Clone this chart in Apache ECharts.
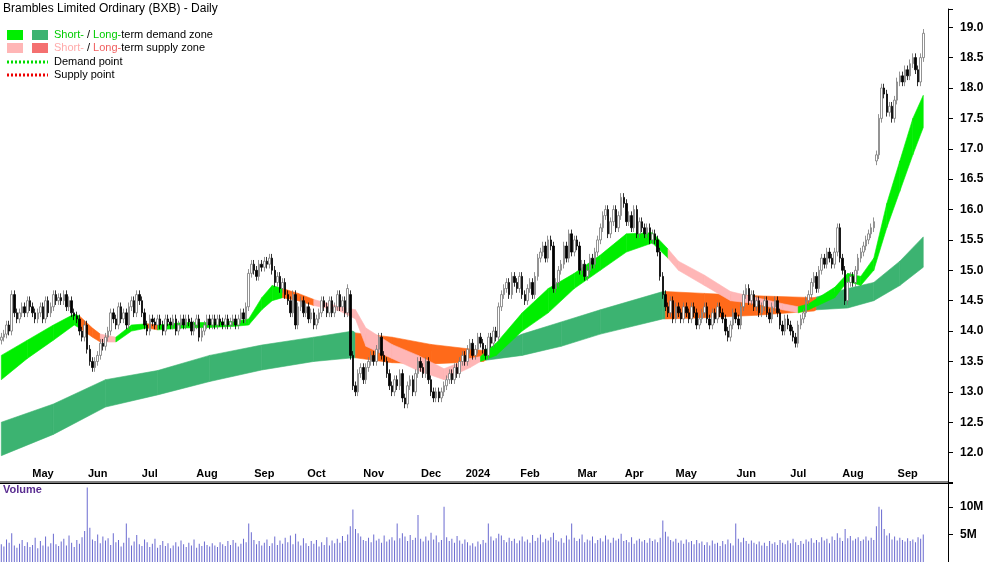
<!DOCTYPE html>
<html>
<head>
<meta charset="utf-8">
<script src="https://cdn.jsdelivr.net/npm/echarts@6/dist/echarts.min.js"></script>
<style>html,body{margin:0;padding:0;background:#fff}#main{width:1000px;height:562px}</style>
</head>
<body>
<div id="main"></div>
<script>
// daily closes
var closes = [
 13.9,13.95,14.1,14.0,14.6,14.3,14.2,14.3,14.4,14.3,
 14.5,14.4,14.3,14.2,14.3,14.4,14.2,14.5,14.3,14.4,
 14.6,14.5,14.55,14.5,14.6,14.4,14.5,14.3,14.25,14.2,
 14.0,13.9,14.1,13.7,13.5,13.4,13.5,13.6,13.8,13.75,
 13.9,14.0,14.3,14.2,14.1,14.4,14.2,14.3,14.1,14.4,
 14.5,14.3,14.6,14.5,14.3,14.1,14.0,14.2,14.15,14.1,
 14.2,14.1,14.0,14.2,14.15,14.1,14.2,14.0,14.1,14.2,
 14.1,14.2,14.15,14.0,14.1,14.2,13.9,14.0,14.1,14.2,
 14.1,14.2,14.1,14.2,14.15,14.1,14.2,14.1,14.15,14.2,
 14.1,14.2,14.3,14.2,14.4,14.95,15.1,15.0,14.9,15.1,
 15.05,15.15,15.1,15.2,15.0,14.8,14.9,14.7,14.8,14.6,
 14.5,14.3,14.6,14.1,14.4,14.5,14.3,14.4,14.2,14.3,
 14.1,14.2,14.3,14.5,14.4,14.3,14.5,14.3,14.4,14.6,
 14.4,14.5,14.3,14.7,13.6,13.1,13.0,13.3,13.4,13.2,
 13.4,13.5,13.6,13.5,13.7,13.9,13.6,13.5,13.3,13.1,
 13.0,13.2,13.1,13.3,12.9,12.8,13.1,13.2,13.0,13.3,
 13.5,13.4,13.3,13.5,13.2,13.0,12.9,13.0,12.9,13.0,
 13.1,13.2,13.3,13.2,13.4,13.3,13.5,13.6,13.5,13.7,
 13.8,13.6,13.7,13.9,13.8,13.7,13.6,13.9,13.8,14.0,
 13.9,14.4,14.6,14.7,14.8,14.6,14.9,14.8,14.7,14.9,
 14.6,14.5,14.7,14.8,14.6,14.9,15.2,15.3,15.4,15.2,
 15.5,15.4,14.7,14.8,15.0,15.1,15.4,15.2,15.6,15.3,
 15.5,15.4,15.0,15.1,14.9,15.0,15.2,15.1,15.3,15.5,
 15.7,15.9,16.0,15.6,15.8,16.0,15.7,15.9,16.2,16.1,
 15.8,15.9,15.7,16.0,15.6,15.8,15.7,15.6,15.7,15.5,
 15.6,15.5,15.3,14.9,14.6,14.4,14.3,14.5,14.2,14.4,
 14.3,14.2,14.4,14.3,14.2,14.4,14.3,14.1,14.2,14.3,
 14.4,14.2,14.1,14.3,14.2,14.4,14.3,14.2,14.0,13.9,
 14.1,14.3,14.2,14.1,14.4,14.6,14.7,14.5,14.6,14.4,
 14.5,14.3,14.4,14.5,14.3,14.2,14.4,14.5,14.3,14.1,
 14.0,14.2,14.1,14.0,13.9,13.8,14.1,14.2,14.3,14.5,
 14.6,14.8,14.9,14.7,15.0,15.2,15.1,15.3,15.2,15.1,
 15.3,15.7,15.2,15.0,14.5,14.8,14.9,14.8,15.0,15.2,
 15.3,15.4,15.5,15.6,15.7,15.8,16.9,17.5,18.0,17.9,
 17.6,17.7,17.5,17.8,18.1,18.2,18.1,18.3,18.2,18.4,
 18.5,18.3,18.1,18.5,18.9
];
// open of gap days (otherwise previous close)
var gapOpens = {134:14.6, 336:16.8};
// daily volume, millions
var volumes = [
 3.2,2.8,4.1,3.5,5.2,3.0,2.6,3.3,4.0,2.9,
 3.6,2.7,3.1,4.4,2.5,3.8,3.0,4.6,2.8,3.4,
 5.1,3.2,2.9,3.7,4.2,3.0,4.8,3.5,2.7,4.0,
 3.3,4.5,5.6,13.5,6.2,4.1,3.8,5.0,3.4,4.6,
 3.9,4.3,3.1,5.2,3.6,4.0,2.8,3.5,7.0,4.4,
 3.0,3.7,4.9,3.2,2.9,4.1,3.6,2.7,3.3,4.2,
 2.6,3.1,3.8,2.9,3.4,2.5,3.0,3.6,2.8,3.9,
 3.2,2.7,3.5,3.0,4.1,2.6,3.3,2.9,3.7,3.1,
 2.8,3.4,3.0,2.7,3.6,3.2,2.9,3.8,3.1,4.0,
 3.5,2.8,3.3,4.2,3.6,7.0,5.4,4.0,3.2,3.8,
 3.0,3.5,4.1,2.9,3.4,4.6,3.1,3.9,3.3,4.4,
 3.6,4.8,3.2,5.1,3.7,3.0,4.3,3.4,2.9,3.8,
 3.3,4.0,2.8,3.6,3.1,4.5,3.0,3.9,3.4,4.2,
 3.5,4.7,3.8,5.0,6.5,9.5,6.0,5.2,4.6,4.0,
 3.8,4.4,3.6,5.0,3.9,4.2,3.5,4.8,3.7,4.1,
 4.5,3.9,7.0,4.3,5.2,4.6,3.8,4.9,4.0,4.4,
 8.5,4.2,3.7,4.6,3.9,5.3,4.1,4.8,3.6,4.0,
 10.0,4.5,3.8,4.2,3.5,4.7,3.9,3.3,4.1,3.6,
 3.0,3.4,2.8,3.7,3.2,4.0,3.5,7.0,4.6,3.9,
 4.3,5.1,4.8,4.0,3.6,4.4,3.8,4.2,3.4,3.9,
 4.6,3.7,4.1,3.5,4.9,3.8,4.4,5.0,3.6,4.2,
 3.9,4.5,5.3,4.0,3.7,4.3,3.5,4.8,4.1,7.0,
 4.4,3.8,4.2,5.0,3.6,4.1,3.9,4.6,3.4,4.0,
 4.3,3.7,4.8,4.1,3.5,4.4,3.9,4.2,5.1,3.8,
 4.0,3.6,4.5,3.3,3.9,4.2,3.7,4.0,3.5,4.3,
 3.8,4.1,3.6,4.4,7.5,5.5,4.6,4.0,3.7,4.2,
 3.5,3.9,3.3,4.1,3.6,3.8,3.2,4.0,3.4,3.7,
 3.1,3.6,3.0,3.9,3.3,3.5,2.9,3.8,3.2,4.1,
 3.4,3.0,7.0,4.2,3.6,4.4,3.8,3.3,3.9,3.5,
 3.2,3.7,3.0,3.5,2.9,3.8,3.3,3.6,3.1,4.0,
 3.5,3.2,3.9,3.4,4.2,3.6,3.1,3.8,3.3,4.1,
 3.7,4.3,3.5,4.0,3.6,4.5,3.9,4.2,3.4,4.6,
 4.0,5.2,4.4,3.8,6.0,4.3,4.7,3.9,4.2,4.5,
 3.8,4.1,4.6,3.9,4.4,4.0,6.5,10.0,9.5,6.0,
 4.8,5.2,4.1,4.6,3.9,4.4,4.0,3.7,4.3,3.8,
 4.1,3.6,4.5,4.2,5.0
];
// short-term band: [day, low, high, state]  g=demand, p=supply, o=long-supply tint
var shortBand = [
 [0,13.2,13.6,'g'],[10,13.55,13.85,'g'],[20,13.85,14.1,'g'],[28,14.1,14.28,'g'],
 [30,14.05,14.25,'o'],[35,13.9,14.05,'o'],[38,13.82,13.95,'p'],[44,13.82,13.9,'g'],
 [50,14.0,14.1,'g'],[56,14.05,14.12,'o'],[60,14.02,14.1,'g'],[70,14.05,14.14,'g'],
 [80,14.06,14.14,'g'],[90,14.08,14.16,'g'],[95,14.1,14.2,'g'],[100,14.35,14.55,'g'],
 [104,14.5,14.75,'g'],[108,14.55,14.7,'o'],[114,14.5,14.62,'o'],[120,14.42,14.52,'p'],
 [130,14.33,14.4,'p'],[136,14.2,14.35,'p'],[140,13.75,14.05,'p'],[150,13.55,13.78,'p'],
 [160,13.35,13.6,'p'],[170,13.2,13.38,'p'],[180,13.4,13.55,'p'],[184,13.5,13.58,'g'],
 [190,13.6,13.8,'g'],[200,14.0,14.3,'g'],[210,14.3,14.7,'g'],[220,14.7,14.95,'g'],
 [230,15.0,15.25,'g'],[240,15.3,15.6,'g'],[250,15.45,15.62,'g'],[256,15.2,15.35,'p'],
 [260,15.0,15.15,'p'],[270,14.75,14.92,'p'],[280,14.5,14.65,'p'],[290,14.45,14.55,'p'],
 [300,14.35,14.45,'p'],[306,14.3,14.4,'g'],[310,14.35,14.45,'g'],[320,14.55,14.72,'g'],
 [325,14.82,14.95,'g'],[330,14.75,14.9,'g'],[335,15.0,15.2,'g'],[340,15.7,16.1,'g'],
 [345,16.3,16.8,'g'],[350,16.9,17.5,'g'],[354,17.35,17.88,'g']
];
// long-term band
var longBand = [
 [0,11.95,12.5,'g'],[20,12.3,12.8,'g'],[40,12.75,13.2,'g'],[60,12.95,13.35,'g'],
 [80,13.17,13.6,'g'],[100,13.36,13.77,'g'],[120,13.5,13.9,'g'],[135,13.56,14.0,'g'],
 [136,13.56,13.97,'o'],[150,13.48,13.9,'o'],[165,13.46,13.78,'o'],[185,13.5,13.68,'o'],
 [186,13.52,13.7,'g'],[200,13.6,13.95,'g'],[215,13.75,14.15,'g'],[230,13.95,14.35,'g'],
 [254,14.2,14.65,'g'],[255,14.2,14.65,'o'],[270,14.22,14.62,'o'],[290,14.26,14.58,'o'],
 [312,14.33,14.55,'o'],[313,14.35,14.56,'g'],[325,14.38,14.7,'g'],[335,14.5,14.8,'g'],
 [345,14.75,15.15,'g'],[354,15.05,15.55,'g']
];
// month labels: day index of month start
var monthTicks = [[16,'May'],[37,'Jun'],[57,'Jul'],[79,'Aug'],[101,'Sep'],[121,'Oct'],[143,'Nov'],
 [165,'Dec'],[183,'2024'],[203,'Feb'],[225,'Mar'],[243,'Apr'],[263,'May'],[286,'Jun'],
 [306,'Jul'],[327,'Aug'],[348,'Sep']];
var padDays = 9;

var bandColors = {g:'#00ee00', p:'#ffb6b6', o:'#ff6a1a'};
var longColors = {g:'#3cb371', o:'#ff6a1a'};

var cats = [], candle = [], tickMap = {};
for (var i = 0; i < closes.length + padDays; i++) cats.push(String(i));
for (var i = 0; i < closes.length; i++) {
  var c = closes[i];
  var o = gapOpens[i] !== undefined ? gapOpens[i] : (i == 0 ? c - 0.05 : closes[i-1]);
  if (o == c) o = c - 0.03;
  candle.push([o, c, Math.min(o,c) - 0.07, Math.max(o,c) + 0.07]);
}
monthTicks.forEach(function (t) { tickMap[t[0]] = t[1]; });

function segs(band, colors) {
  var out = [];
  for (var k = 0; k < band.length - 1; k++) {
    var a = band[k], b = band[k+1];
    out.push({value:[a[0],a[1],a[2],b[0],b[1],b[2]], itemStyle:{color: colors[a[3]] || colors.g}});
  }
  return out;
}
function bandItem(params, api) {
  var p1 = api.coord([api.value(0), api.value(1)]);
  var p2 = api.coord([api.value(0), api.value(2)]);
  var p3 = api.coord([api.value(3), api.value(5)]);
  var p4 = api.coord([api.value(3), api.value(4)]);
  return {type:'polygon', shape:{points:[p1,p2,p3,p4]},
    style:{fill: api.visual('color'), stroke: api.visual('color'), lineWidth:0.6}};
}

var chart = echarts.init(document.getElementById('main'));
chart.setOption({
  animation:false,
  textStyle:{fontFamily:'Liberation Sans'},
  grid:[{left:0, right:52, top:9, height:474},{left:0, right:52, top:482, height:84}],
  xAxis:[
    {type:'category', data:cats, gridIndex:0, boundaryGap:true,
     axisLine:{lineStyle:{color:'#000'}},
     axisTick:{alignWithLabel:true, inside:true, interval:function(i){return tickMap[i]!==undefined;}, length:4, lineStyle:{color:'#000'}},
     axisLabel:{interval:function(i){return tickMap[i]!==undefined;}, formatter:function(v){return tickMap[v]||'';},
       color:'#000', fontSize:11, fontWeight:'bold', margin:-4, align:'center', verticalAlign:'bottom'},
     splitLine:{show:false}},
    {type:'category', data:cats, gridIndex:1, show:false}
  ],
  yAxis:[
    {type:'value', gridIndex:0, position:'right', min:11.5, max:19.3, interval:0.5,
     axisLine:{show:true, lineStyle:{color:'#000'}}, axisTick:{show:true, length:5, lineStyle:{color:'#000'}},
     splitLine:{show:false},
     axisLabel:{color:'#000', fontSize:12, fontWeight:'bold', margin:12,
       formatter:function(v){return (v<12||v>19)?'':v.toFixed(1);}}},
    {type:'value', gridIndex:1, position:'right', min:0, max:14.5, interval:5,
     axisLine:{show:true, lineStyle:{color:'#000'}}, axisTick:{show:true, length:5, lineStyle:{color:'#000'}},
     splitLine:{show:false},
     axisLabel:{color:'#000', fontSize:12, fontWeight:'bold', margin:12,
       formatter:function(v){return (v==5||v==10)?v+'M':'';}}}
  ],
  series:[
    {type:'custom', xAxisIndex:0, yAxisIndex:0, renderItem:bandItem, data:segs(longBand,longColors), z:1, silent:true},
    {type:'custom', xAxisIndex:0, yAxisIndex:0, renderItem:bandItem, data:segs(shortBand,bandColors), z:2, silent:true},
    {type:'candlestick', xAxisIndex:0, yAxisIndex:0, data:candle, barWidth:2, z:5,
     itemStyle:{color:'#ffffff', borderColor:'#777', color0:'#000', borderColor0:'#000', borderWidth:0.8}},
    {type:'bar', xAxisIndex:1, yAxisIndex:1, data:volumes, barWidth:1, itemStyle:{color:'#6a6ad0'}}
  ],
  graphic:[
    {type:'line', shape:{x1:0,y1:482,x2:948,y2:482}, style:{stroke:'#000', lineWidth:1}},
    {type:'text', left:3, top:3, style:{text:'Brambles Limited Ordinary (BXB) - Daily', font:'12px Liberation Sans', fill:'#000'}},
    {type:'text', left:3, top:484, style:{text:'Volume', font:'bold 11px Liberation Sans', fill:'#5a2d91'}},
    {type:'rect', shape:{x:7,y:30,width:16,height:10}, style:{fill:'#00ee00'}},
    {type:'rect', shape:{x:32,y:30,width:16,height:10}, style:{fill:'#3cb371'}},
    {type:'rect', shape:{x:7,y:43,width:16,height:10}, style:{fill:'#ffb6b6'}},
    {type:'rect', shape:{x:32,y:43,width:16,height:10}, style:{fill:'#f47070'}},
    {type:'line', shape:{x1:7,y1:62,x2:48,y2:62}, style:{stroke:'#00dd00', lineWidth:3, lineDash:[2,2]}},
    {type:'line', shape:{x1:7,y1:75,x2:48,y2:75}, style:{stroke:'#ee0000', lineWidth:3, lineDash:[2,2]}},
    {type:'text', left:54, top:29, style:{rich:{g:{fill:'#00cc00',font:'11px Liberation Sans'},k:{fill:'#000',font:'11px Liberation Sans'}},
      text:'{g|Short-}{k| / }{g|Long-}{k|term demand zone}'}},
    {type:'text', left:54, top:42, style:{rich:{g:{fill:'#ffaaaa',font:'11px Liberation Sans'},r:{fill:'#f06060',font:'11px Liberation Sans'},k:{fill:'#000',font:'11px Liberation Sans'}},
      text:'{g|Short-}{k| / }{r|Long-}{k|term supply zone}'}},
    {type:'text', left:54, top:56, style:{text:'Demand point', font:'11px Liberation Sans', fill:'#000'}},
    {type:'text', left:54, top:69, style:{text:'Supply point', font:'11px Liberation Sans', fill:'#000'}}
  ]
});
</script>
</body>
</html>
